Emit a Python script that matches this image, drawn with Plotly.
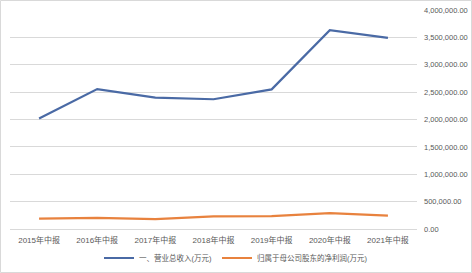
import plotly.graph_objects as go

categories = ["2015年中报", "2016年中报", "2017年中报", "2018年中报", "2019年中报", "2020年中报", "2021年中报"]
revenue = [2020000, 2555000, 2400000, 2370000, 2550000, 3630000, 3490000]
net_profit = [190000, 205000, 180000, 230000, 235000, 290000, 245000]
series_names = ["一、营业总收入(万元)", "归属于母公司股东的净利润(万元)"]
y_ticks = [0, 500000, 1000000, 1500000, 2000000, 2500000, 3000000, 3500000, 4000000]

W, H = 472, 273
ml, mr, mt, mb = 10, 55, 10, 44

fig = go.Figure()
fig.add_trace(go.Scatter(x=categories, y=revenue, mode="lines", name=series_names[0],
                         line=dict(color="#4A6AA5", width=2.2)))
fig.add_trace(go.Scatter(x=categories, y=net_profit, mode="lines", name=series_names[1],
                         line=dict(color="#E8823E", width=2.2)))

font_family = "Liberation Sans, Noto Sans CJK SC, sans-serif"
fig.update_layout(
    width=W, height=H,
    margin=dict(l=ml, r=mr, t=mt, b=mb, autoexpand=False),
    paper_bgcolor="white", plot_bgcolor="white",
    font=dict(family=font_family, size=8, color="#595959"),
    showlegend=True,
    legend=dict(orientation="h", x=0.5, xref="container", xanchor="center",
                y=15 / H, yref="container", yanchor="middle",
                font=dict(size=7.5, color="#595959"), itemwidth=30, bgcolor="rgba(0,0,0,0)"),
    xaxis=dict(type="category", showgrid=False, showline=True, linecolor="#D9D9D9", linewidth=1,
               ticks="", tickfont=dict(size=8, color="#595959"), range=[-0.5, 6.5],
               ticklabelstandoff=3, automargin=False),
    yaxis=dict(side="right", range=[0, 4000000], tickvals=y_ticks, tickformat=",.2f",
               showgrid=True, gridcolor="#D9D9D9", gridwidth=1, zeroline=False,
               showline=False, ticks="", tickfont=dict(size=7.5, color="#595959"),
               ticklabelstandoff=6, automargin=False),
    shapes=[dict(type="rect", xref="paper", yref="paper",
                 x0=-(ml - 0.5) / (W - ml - mr), x1=1 + (mr - 0.5) / (W - ml - mr),
                 y0=-(mb - 0.5) / (H - mt - mb), y1=1 + (mt - 0.5) / (H - mt - mb),
                 line=dict(color="#D9D9D9", width=1), layer="below")],
)

fig.write_html("out.html")
